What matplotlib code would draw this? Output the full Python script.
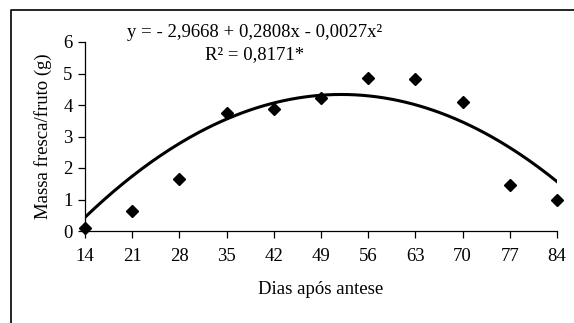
import numpy as np
import matplotlib
matplotlib.use("Agg")
import matplotlib.pyplot as plt
from matplotlib.lines import Line2D

plt.rcParams['font.family'] = ['Liberation Serif', 'DejaVu Serif']

# dias após antese e massa fresca média por fruto (g)
dias = [14, 21, 28, 35, 42, 49, 56, 63, 70, 77, 84]
massa = [0.10, 0.63, 1.66, 3.74, 3.88, 4.23, 4.87, 4.82, 4.10, 1.47, 1.00]

# coeficientes do ajuste quadrático
b0, b1, b2 = -2.9668, 0.2808, -0.0027
equacao = "y = - 2,9668 + 0,2808x - 0,0027x²"
r2_texto = "R² = 0,8171*"

fig = plt.figure(figsize=(5.74, 3.23), dpi=100)
ax = fig.add_axes([85/574, 1 - 231/323, 472/574, 189/323])

xs = np.linspace(14, 84, 200)
ax.plot(xs, b0 + b1*xs + b2*xs**2, color='black', lw=2.2, zorder=2)
ax.plot(dias, massa, 'D', color='black', ms=6.5, zorder=3, clip_on=False)

ax.set_xlim(14, 84)
ax.set_ylim(0, 6)
ax.set_xticks(dias)
ax.set_yticks(range(0, 7))
for s in ['top', 'right']:
    ax.spines[s].set_visible(False)
for s in ['left', 'bottom']:
    ax.spines[s].set_color('black')
    ax.spines[s].set_linewidth(0.9)
ax.tick_params(direction='out', length=5, width=0.9, labelsize=13.5, pad=4)
ax.tick_params(axis='x', pad=7)

ax.set_xlabel("Dias após antese", fontsize=13.5, labelpad=12)
ax.set_ylabel("Massa fresca/fruto (g)", fontsize=13.5, labelpad=8)

ax.text(0.36, 1.05, equacao, transform=ax.transAxes, ha='center',
        va='center', fontsize=13.5)
ax.text(0.36, 0.935, r2_texto, transform=ax.transAxes, ha='center',
        va='center', fontsize=13.5)

# moldura superior e esquerda
fy = 1 - 9.5/323
fx = 11/574
fig.add_artist(Line2D([fx, fx, 1], [0, fy, fy], transform=fig.transFigure,
                      color='black', lw=1.2))

fig.savefig("out.png", dpi=100, facecolor='white')
